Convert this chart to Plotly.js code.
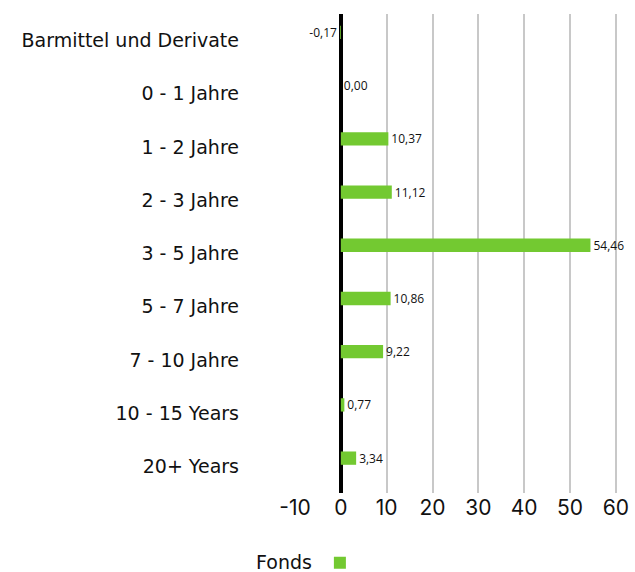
<!DOCTYPE html>
<html>
<head>
<meta charset="utf-8">
<script src="https://cdn.plot.ly/plotly-3.0.1.min.js"></script>
<style>html,body{margin:0;padding:0;background:#fff;}#chart{width:635px;height:572px;}</style>
</head>
<body>
<div id="chart"></div>
<script>
var categories = ["Barmittel und Derivate", "0 - 1 Jahre", "1 - 2 Jahre", "2 - 3 Jahre", "3 - 5 Jahre", "5 - 7 Jahre", "7 - 10 Jahre", "10 - 15 Years", "20+ Years"];
var fondsValues = [-0.17, 0.00, 10.37, 11.12, 54.46, 10.86, 9.22, 0.77, 3.34];
var xTickValues = [-10, 0, 10, 20, 30, 40, 50, 60];
var seriesName = "Fonds";

var labels = fondsValues.map(function(v){ return v.toFixed(2).replace('.', ','); });

var trace = {
  type: 'bar',
  orientation: 'h',
  y: categories,
  x: fondsValues,
  name: ' ',
  marker: {color: '#73c931'},
  width: 0.25,
  offset: -0.28,
  text: labels,
  textposition: 'outside',
  constraintext: 'none',
  textfont: {family: 'Open Sans, sans-serif', size: 12, color: '#111'},
  cliponaxis: false,
  hoverinfo: 'x+y'
};

var layout = {
  width: 635, height: 572,
  margin: {l: 295, r: 10, t: 14, b: 79, autoexpand: false},
  paper_bgcolor: '#fff', plot_bgcolor: '#fff',
  font: {family: 'DejaVu Sans, sans-serif', color: '#111'},
  showlegend: true,
  legend: {
    orientation: 'h', xref: 'container', yref: 'paper',
    x: 0.40, xanchor: 'left', y: -0.146, yanchor: 'middle',
    title: {text: seriesName, side: 'left', font: {size: 19, color: '#111'}},
    font: {size: 18}
  },
  xaxis: {
    range: [-10, 62],
    tickvals: xTickValues,
    ticktext: xTickValues.map(String),
    showgrid: true, gridcolor: '#c8c8c8', gridwidth: 2,
    zeroline: true, zerolinecolor: '#000', zerolinewidth: 4,
    ticks: '',
    ticklabelstandoff: 0,
    tickfont: {family: 'Inter, sans-serif', size: 21, color: '#111'},
    showline: false, fixedrange: true
  },
  yaxis: {
    type: 'category',
    autorange: 'reversed',
    showgrid: false, zeroline: false, showline: false,
    ticks: '',
    ticklabelstandoff: 55,
    tickfont: {size: 19, color: '#111'},
    fixedrange: true
  }
};

Plotly.newPlot('chart', [trace], layout, {displayModeBar: false, staticPlot: true});
</script>
</body>
</html>
